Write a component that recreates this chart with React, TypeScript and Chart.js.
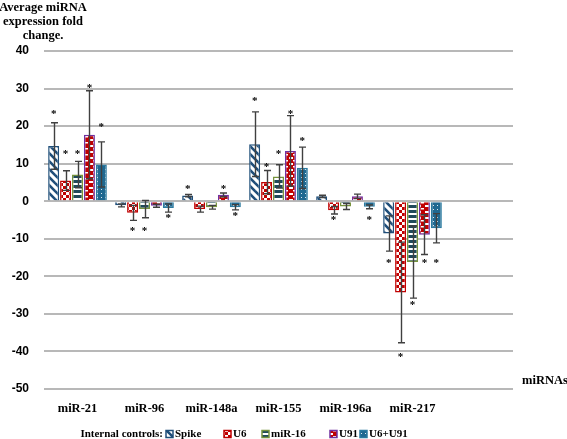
import React, { useEffect, useRef } from 'react';
import { Chart, registerables } from 'chart.js';

Chart.register(...registerables);

// ---------- data ----------
const categories = ['miR-21', 'miR-96', 'miR-148a', 'miR-155', 'miR-196a', 'miR-217', ''];
const seriesNames = ['Spike', 'U6', 'miR-16', 'U91', 'U6+U91'];

const spikeValues = [14.7, -1.1, 1.5, 15.2, 1.3, -8.6];
const u6Values = [5.5, -3.1, -2.1, 5.1, -2.4, -24.3];
const mir16Values = [7.1, -2.1, -1.6, 6.6, -1.4, -16.2];
const u91Values = [17.7, -1.2, 1.7, 13.4, 1.3, -8.9];
const u6u91Values = [9.8, -1.8, -1.6, 8.9, -1.5, -7.2];

const spikeErrors = [6.2, 0.4, 0.3, 8.6, 0.3, 4.7];
const u6Errors = [2.6, 2.0, 0.8, 3.1, 1.0, 13.4];
const mir16Errors = [3.5, 2.3, 0.5, 3.1, 0.8, 9.6];
const u91Errors = [11.7, 0.4, 0.5, 9.4, 0.6, 5.3];
const u6u91Errors = [6.0, 1.1, 0.7, 5.5, 0.5, 3.9];

// value at which each significance asterisk sits (null = none)
const spikeStars = [23.8, null, 3.9, 27.3, null, -15.8];
const u6Stars = [13.3, -7.3, null, 9.7, -4.3, -40.9];
const mir16Stars = [13.3, -7.3, null, 13.2, null, -26.9];
const u91Stars = [30.9, null, 3.9, 23.8, null, -15.9];
const u6u91Stars = [20.4, -3.8, -3.3, 16.7, -4.4, -15.9];

const yMin = -50;
const yMax = 40;
const yStep = 10;

const yAxisTitle = ['Average miRNA', 'expression fold', 'change.'];
const xAxisTitle = 'miRNAs';
const legendTitle = 'Internal controls:';

// ---------- patterns ----------
function makePattern(w: number, h: number, draw: (ctx: CanvasRenderingContext2D) => void) {
  const c = document.createElement('canvas');
  c.width = w;
  c.height = h;
  const ctx = c.getContext('2d')!;
  draw(ctx);
  return ctx.createPattern(c, 'repeat')!;
}

function buildPatterns() {
  const spike = makePattern(8, 8, (ctx) => {
    ctx.fillStyle = '#ffffff';
    ctx.fillRect(0, 0, 8, 8);
    ctx.strokeStyle = '#1f4e79';
    ctx.lineWidth = 2.6;
    for (let k = -1; k <= 1; k++) {
      ctx.beginPath();
      ctx.moveTo(-2, -2 + k * 8);
      ctx.lineTo(10, 10 + k * 8);
      ctx.stroke();
    }
  });
  const u6 = makePattern(6, 6, (ctx) => {
    ctx.fillStyle = '#c00000';
    ctx.fillRect(0, 0, 6, 6);
    ctx.fillStyle = '#ffffff';
    ctx.fillRect(0, 0, 3, 3);
    ctx.fillRect(3, 3, 3, 3);
  });
  const mir16 = makePattern(5, 5, (ctx) => {
    ctx.fillStyle = '#1f4a5a';
    ctx.fillRect(0, 0, 5, 5);
    ctx.fillStyle = '#ffffff';
    ctx.fillRect(0, 3, 5, 2);
  });
  const u91 = makePattern(8, 6, (ctx) => {
    ctx.fillStyle = '#c00000';
    ctx.fillRect(0, 0, 8, 6);
    ctx.fillStyle = '#ffffff';
    ctx.fillRect(1, 1, 4, 2);
    ctx.fillRect(5, 4, 3, 1.5);
  });
  const u6u91 = makePattern(4, 4, (ctx) => {
    ctx.fillStyle = '#1f6890';
    ctx.fillRect(0, 0, 4, 4);
    ctx.fillStyle = '#dfe8ee';
    ctx.fillRect(1, 1, 1, 1);
  });
  return [spike, u6, mir16, u91, u6u91];
}

const borderColors = ['#1f4e79', '#c00000', '#77933c', '#7030a0', '#2a7aa0'];

export default function App() {
  const canvasRef = useRef<HTMLCanvasElement | null>(null);

  useEffect(() => {
    document.body.style.margin = '0';
    const canvas = canvasRef.current;
    if (!canvas) return;

    const patterns = buildPatterns();
    const values = [spikeValues, u6Values, mir16Values, u91Values, u6u91Values];
    const errors = [spikeErrors, u6Errors, mir16Errors, u91Errors, u6u91Errors];
    const stars = [spikeStars, u6Stars, mir16Stars, u91Stars, u6u91Stars];

    const serifBold = "bold 12.5px 'Liberation Serif', 'Times New Roman', serif";

    const decorPlugin = {
      id: 'decor',
      afterDatasetsDraw(chart: any) {
        const ctx = chart.ctx as CanvasRenderingContext2D;
        const yScale = chart.scales.y;
        // error bars
        ctx.save();
        ctx.strokeStyle = '#404040';
        ctx.lineWidth = 1.4;
        chart.data.datasets.forEach((ds: any, di: number) => {
          const meta = chart.getDatasetMeta(di);
          meta.data.forEach((el: any, i: number) => {
            const v = values[di][i];
            const e = errors[di][i];
            if (v == null || e == null) return;
            const x = Math.round(el.x) + 0.5;
            const yt = yScale.getPixelForValue(v + e);
            const yb = yScale.getPixelForValue(v - e);
            ctx.beginPath();
            ctx.moveTo(x, yt);
            ctx.lineTo(x, yb);
            ctx.moveTo(x - 3.5, yt);
            ctx.lineTo(x + 3.5, yt);
            ctx.moveTo(x - 3.5, yb);
            ctx.lineTo(x + 3.5, yb);
            ctx.stroke();
          });
        });
        // asterisks
        ctx.fillStyle = '#000000';
        ctx.font = "bold 11px 'Liberation Serif', serif";
        ctx.textAlign = 'center';
        ctx.textBaseline = 'middle';
        chart.data.datasets.forEach((ds: any, di: number) => {
          const meta = chart.getDatasetMeta(di);
          meta.data.forEach((el: any, i: number) => {
            const s = stars[di][i];
            if (s == null) return;
            const y = yScale.getPixelForValue(s);
            ctx.fillText('*', el.x, y + 2.5);
          });
        });
        ctx.restore();
      },
      afterDraw(chart: any) {
        const ctx = chart.ctx as CanvasRenderingContext2D;
        const area = chart.chartArea;
        ctx.save();
        ctx.fillStyle = '#000000';
        ctx.font = serifBold;
        ctx.textAlign = 'center';
        ctx.textBaseline = 'middle';
        yAxisTitle.forEach((line, i) => {
          ctx.fillText(line, 43, 8 + i * 14);
        });
        ctx.textAlign = 'left';
        ctx.fillText(xAxisTitle, area.right + 9, area.bottom - 8);

        // legend
        ctx.font = "bold 11px 'Liberation Serif', serif";
        const ly = 434;
        ctx.textAlign = 'right';
        ctx.fillText(legendTitle, 163, ly);
        ctx.textAlign = 'left';
        const boxX = [166, 224, 262, 330, 360];
        seriesNames.forEach((name, i) => {
          const bx = boxX[i];
          ctx.fillStyle = patterns[i];
          ctx.fillRect(bx, ly - 3.5, 7, 7);
          ctx.strokeStyle = borderColors[i];
          ctx.lineWidth = 1.5;
          ctx.strokeRect(bx, ly - 3.5, 7, 7);
          ctx.fillStyle = '#000000';
          ctx.fillText(name, bx + 9, ly);
        });
        ctx.restore();
      },
    };

    const chart = new Chart(canvas, {
      type: 'bar',
      data: {
        labels: categories,
        datasets: seriesNames.map((name, i) => ({
          label: name,
          data: values[i],
          backgroundColor: patterns[i] as any,
          borderColor: borderColors[i],
          borderWidth: 1.5,
          categoryPercentage: 0.89,
          barPercentage: 0.92,
        })),
      },
      options: {
        responsive: false,
        animation: false,
        layout: { padding: { top: 51, right: 54, left: 0, bottom: 0 } },
        plugins: {
          legend: { display: false },
          tooltip: { enabled: false },
          title: { display: false },
        },
        scales: {
          x: {
            grid: { display: false, drawTicks: false },
            border: { display: false },
            ticks: {
              color: '#000000',
              padding: 12,
              maxRotation: 0,
              autoSkip: false,
              font: { family: "'Liberation Serif', serif", size: 12.5, weight: 'bold' },
            },
            afterFit: (s: any) => {
              s.height = 50;
            },
          },
          y: {
            min: yMin,
            max: yMax,
            grid: { display: true, drawTicks: false, color: '#b8b8b8', lineWidth: 2 },
            border: { display: false },
            ticks: {
              stepSize: yStep,
              color: '#000000',
              padding: 15,
              font: { family: "'Liberation Sans', Arial, sans-serif", size: 12, weight: 'bold' },
            },
            afterFit: (s: any) => {
              s.width = 44;
            },
          },
        },
      },
      plugins: [decorPlugin],
    });

    return () => {
      chart.destroy();
    };
  }, []);

  return (
    <div style={{ width: 567, height: 439 }}>
      <canvas ref={canvasRef} width={567} height={439} style={{ display: 'block' }} />
    </div>
  );
}
